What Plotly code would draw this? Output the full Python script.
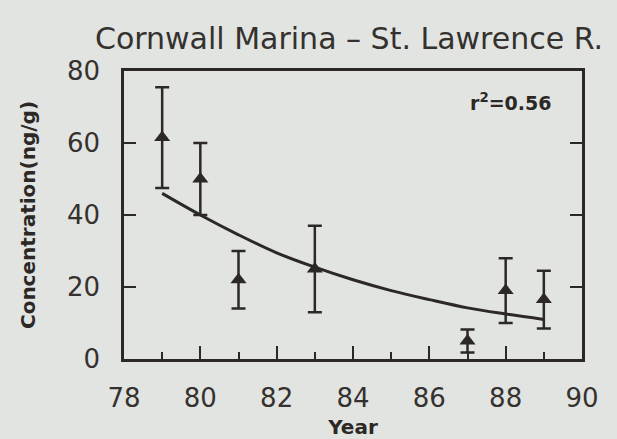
import plotly.graph_objects as go

# Sampling years and measured concentrations (ng/g) with their error bars
years = [79, 80, 81, 83, 87, 88, 89]
concentration = [61.5, 50, 22, 25, 5, 19, 16.5]
error = [14, 10, 8, 12, 3.2, 9, 8]

# Fitted trend line, read at each year
fit_years = [79, 80, 81, 82, 83, 84, 85, 86, 87, 88, 89]
fit_values = [46, 40, 34.5, 29.5, 25.5, 22, 19, 16.5, 14.2, 12.5, 11]

x_ticks = [78, 80, 82, 84, 86, 88, 90]
y_ticks = [0, 20, 40, 60, 80]

ink = "#2b2826"
paper = "#e2e4e1"
W, H = 617, 439
L, R, T, B = 124, 35, 71, 80

fig = go.Figure()

fig.add_trace(go.Scatter(
    x=fit_years, y=fit_values, mode="lines",
    line=dict(color=ink, width=3, shape="spline"),
    hoverinfo="skip", showlegend=False,
))

fig.add_trace(go.Scatter(
    x=years, y=concentration, mode="markers",
    marker=dict(symbol="triangle-up", size=14, color=ink),
    error_y=dict(type="data", array=error, visible=True,
                 color=ink, thickness=2.5, width=7),
    showlegend=False,
))

fig.update_layout(
    width=W, height=H,
    margin=dict(l=L, r=R, t=T, b=B, pad=0, autoexpand=False),
    paper_bgcolor=paper, plot_bgcolor=paper,
    font=dict(family="DejaVu Sans", color=ink),
    title=dict(
        text="Cornwall Marina \u2013 St. Lawrence R.",
        font=dict(family="DejaVu Sans", size=30, color="#34312e"),
        x=349 / W, xanchor="center", xref="container",
        y=1 - 38 / H, yanchor="middle", yref="container",
    ),
    showlegend=False,
)

fig.update_xaxes(
    range=[78, 90], tickvals=x_ticks, ticktext=[str(v) for v in x_ticks],
    ticks="inside", ticklen=13, tickwidth=2, tickcolor=ink,
    minor=dict(dtick=1, tick0=78, ticks="inside", ticklen=7,
               tickwidth=2, tickcolor=ink, showgrid=False),
    showline=True, linewidth=2.5, linecolor=ink, mirror=True,
    showgrid=False, zeroline=False, automargin=False,
    tickfont=dict(family="DejaVu Sans", size=26, color="#34312e"),
    ticklabelstandoff=14,
    title=dict(text="<b>Year</b>", standoff=19,
               font=dict(family="DejaVu Sans", size=20, color=ink)),
)

fig.update_yaxes(
    range=[0, 80], tickvals=y_ticks, ticktext=[str(v) for v in y_ticks],
    ticks="inside", ticklen=12, tickwidth=2, tickcolor=ink,
    showline=True, linewidth=2.5, linecolor=ink, mirror="ticks",
    showgrid=False, zeroline=False, automargin=False,
    tickfont=dict(family="DejaVu Sans", size=26, color="#34312e"),
    ticklabelstandoff=16,
    title=dict(text="<b>Concentration(ng/g)</b>", standoff=26,
               font=dict(family="DejaVu Sans", size=20, color=ink)),
)

fig.add_annotation(
    text="<b>r<sup>2</sup>=0.56</b>",
    xref="paper", yref="paper",
    x=(553 - L) / (W - L - R), y=(H - B - 102) / (H - B - T),
    xanchor="right", yanchor="middle", showarrow=False,
    font=dict(family="DejaVu Sans", size=19, color=ink),
)

fig.write_html("out.html")
